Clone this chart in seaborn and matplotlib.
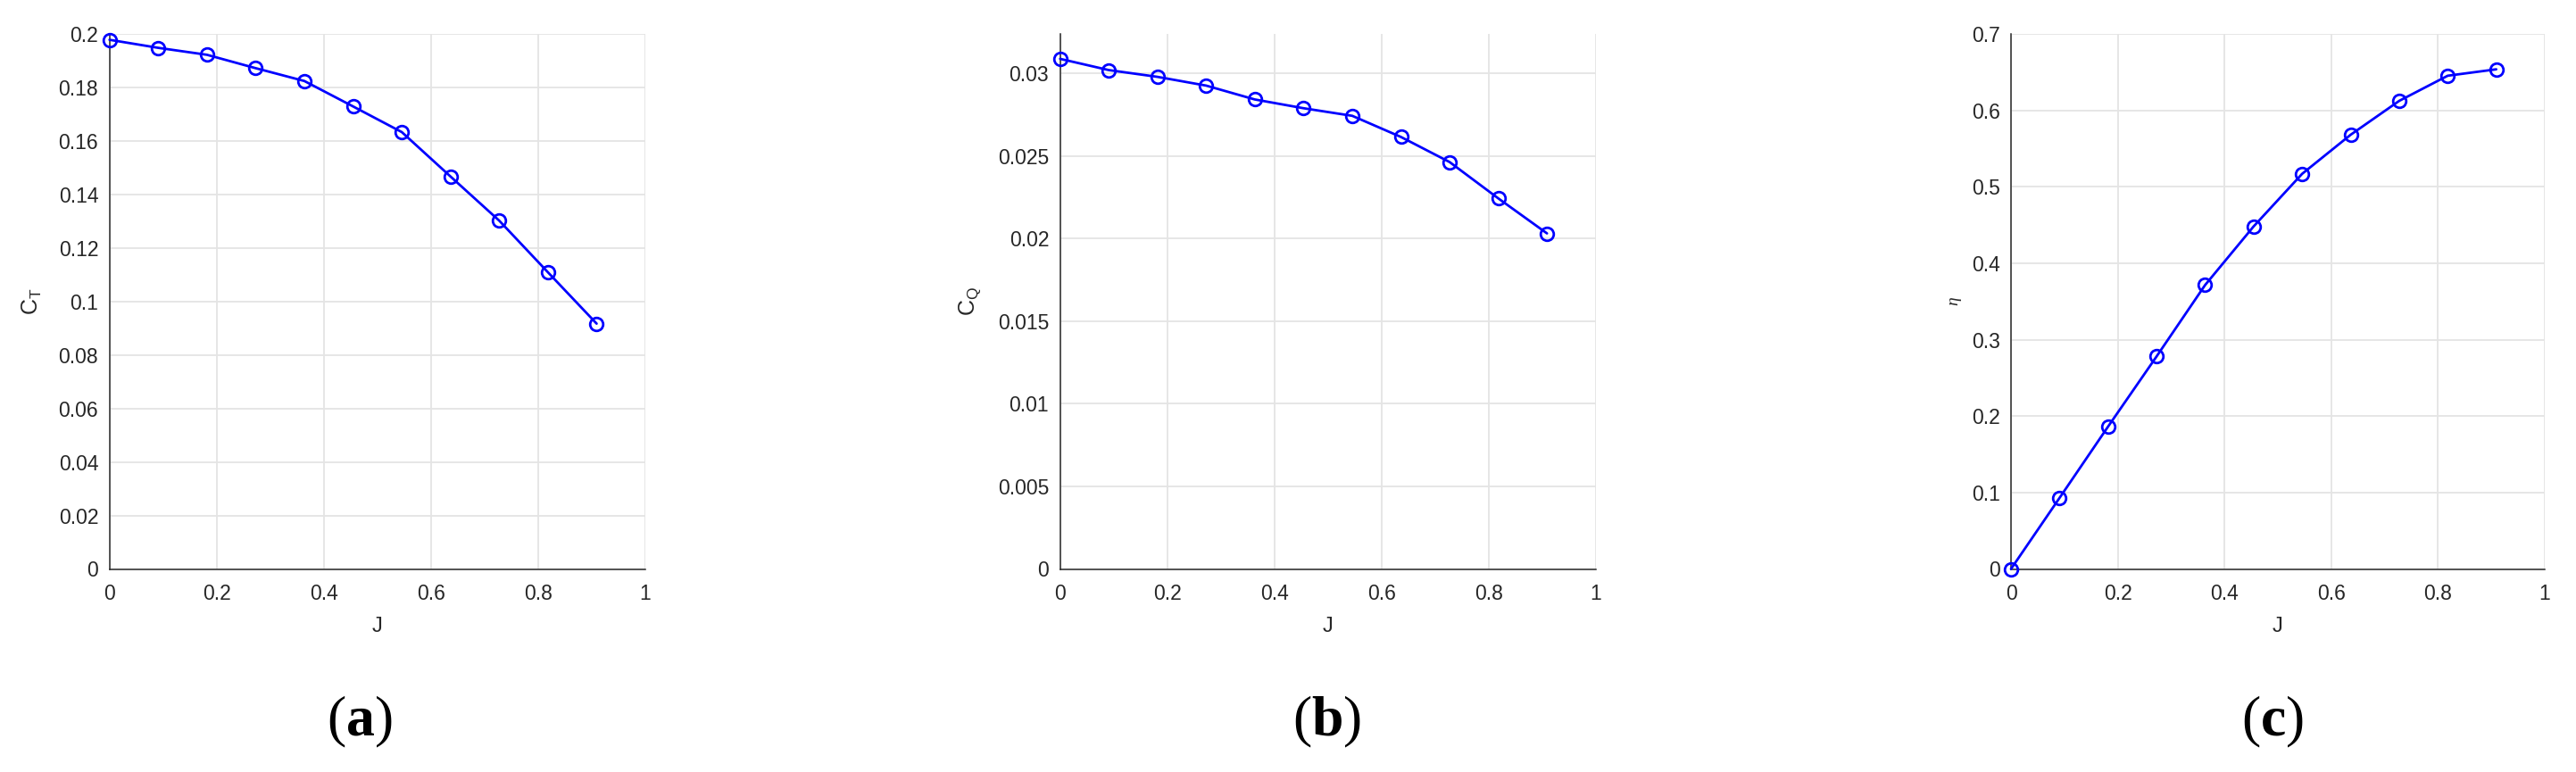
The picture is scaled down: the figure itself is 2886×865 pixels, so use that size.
import numpy as np
import pandas as pd
import matplotlib
matplotlib.use("Agg")
import matplotlib.pyplot as plt
import seaborn as sns
from matplotlib.ticker import FuncFormatter, MultipleLocator

# ---- data ----
J = [0.0, 0.0909, 0.1818, 0.2727, 0.3636, 0.4545, 0.5455, 0.6364, 0.7273, 0.8182, 0.9091]
CT = [0.1978, 0.1948, 0.1922, 0.1872, 0.1824, 0.1729, 0.1633, 0.1467, 0.1302, 0.1109, 0.0917]
CQ = [0.03089, 0.03021, 0.02980, 0.02927, 0.02843, 0.02790, 0.02744, 0.02616, 0.02464, 0.02244, 0.02032]
ETA = [0.0, 0.0929, 0.1862, 0.2780, 0.3714, 0.4481, 0.5170, 0.5681, 0.6124, 0.6453, 0.6537]

ylabels = [r"$\mathregular{C_T}$", r"$\mathregular{C_Q}$", r"$\eta$"]
captions = ["a", "b", "c"]
ylims = [(0, 0.2), (0, 0.0324), (0, 0.7)]
ysteps = [0.02, 0.005, 0.1]

sns.set_style("white")
plt.rcParams["font.family"] = ["Liberation Sans", "DejaVu Sans"]
plt.rcParams["mathtext.fontset"] = "custom"
plt.rcParams["mathtext.rm"] = "Liberation Serif"
plt.rcParams["mathtext.it"] = "Liberation Serif:italic"
plt.rcParams["mathtext.bf"] = "Liberation Serif:bold"

fig = plt.figure(figsize=(28.86, 8.65), dpi=100)
fig.patch.set_facecolor("white")

lefts = [122.7 / 2886, 1187.7 / 2886, 2253 / 2886]
widths = [600.3 / 2886, 600 / 2886, 598 / 2886]
bottom, height = 1 - 637.5 / 865, 599.5 / 865
cap_x = [403 / 2886, 1487 / 2886, 2546 / 2886]
cap_y = 1 - 809 / 865

series = [CT, CQ, ETA]
dark = "#262626"
for i in range(3):
    ax = fig.add_axes([lefts[i], bottom, widths[i], height])
    df = pd.DataFrame({"J": J, "v": series[i]})
    sns.lineplot(data=df, x="J", y="v", ax=ax, color=(0, 0, 1), linewidth=2.0,
                 marker="o", markersize=10.5, markerfacecolor="none",
                 markeredgecolor=(0, 0, 1), markeredgewidth=2.0, sort=False,
                 estimator=None, clip_on=False, zorder=5)
    ax.set_xlim(0, 1)
    ax.set_ylim(*ylims[i])
    ax.xaxis.set_major_locator(MultipleLocator(0.2))
    ax.yaxis.set_major_locator(MultipleLocator(ysteps[i]))
    fmt = FuncFormatter(lambda v, p: ("%g" % round(v, 6)))
    ax.xaxis.set_major_formatter(fmt)
    ax.yaxis.set_major_formatter(fmt)
    ax.grid(True, color="#e4e4e4", linewidth=1.3)
    ax.set_axisbelow(True)
    for s in ["top", "right"]:
        ax.spines[s].set_visible(False)
    for s in ["left", "bottom"]:
        ax.spines[s].set_color(dark)
        ax.spines[s].set_linewidth(1.1)
    ax.tick_params(axis="both", direction="in", length=6, width=1.1,
                   colors=dark, labelsize=16.5)
    ax.tick_params(axis="x", pad=12)
    ax.tick_params(axis="y", pad=9)
    ax.set_xlabel("J", fontsize=17, color=dark, labelpad=10)
    lab_fs = 18 if i < 2 else 14
    ax.set_ylabel(ylabels[i], fontsize=lab_fs, color=dark,
                  labelpad=12 if i < 2 else 6)
    fig.text(cap_x[i], cap_y, r"$(\mathbf{%s})$" % captions[i], fontsize=46,
             ha="center", va="center", color="black")

fig.savefig("out.png", dpi=100, facecolor="white")
